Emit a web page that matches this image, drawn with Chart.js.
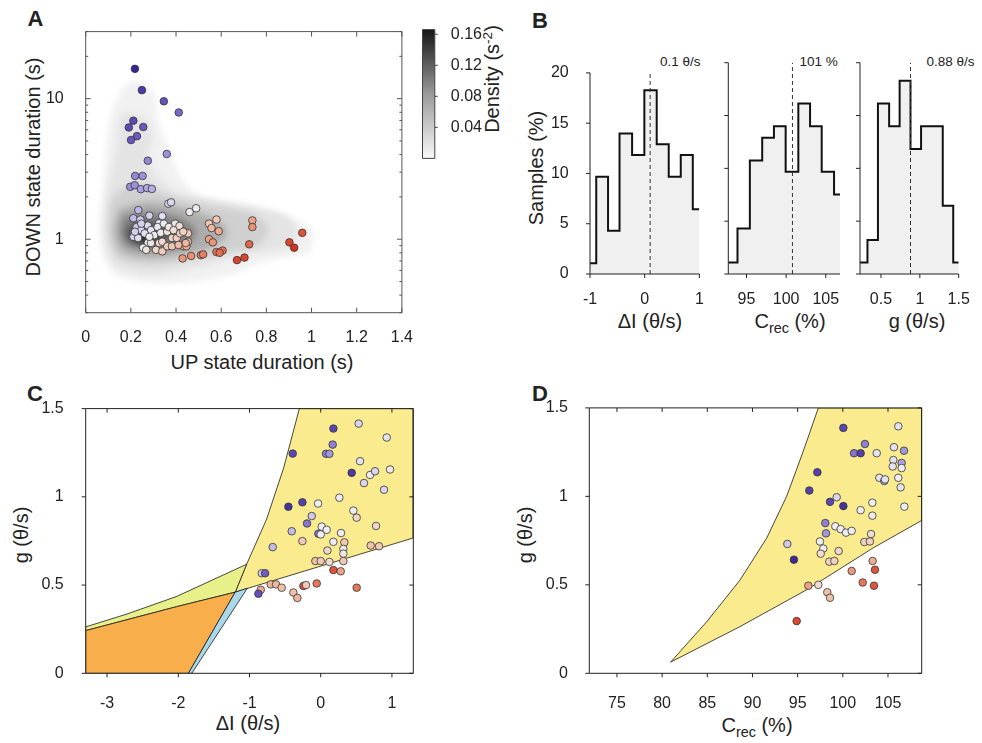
<!DOCTYPE html>
<html><head><meta charset="utf-8">
<script src="https://cdn.jsdelivr.net/npm/chart.js@4.4.1/dist/chart.umd.min.js"></script>
<style>
html,body{margin:0;padding:0;background:#fff}
body{position:relative;width:982px;height:743px;overflow:hidden;font-family:"Liberation Sans",Arial,Helvetica,sans-serif;color:#222}
canvas{position:absolute}
.t{position:absolute;white-space:nowrap;line-height:1;font-size:20px;transform:translate(-50%,-50%)}
.v{transform:translate(-50%,-50%) rotate(-90deg)}
.p{position:absolute;font-weight:bold;font-size:22px;line-height:1;transform:translate(-50%,-50%)}
.s{position:absolute;white-space:nowrap;line-height:1;font-size:13.5px;transform:translate(0,-50%)}
sub{font-size:0.72em;vertical-align:-0.35em;line-height:0}
sup{font-size:0.68em;vertical-align:0.55em;line-height:0}
</style></head><body>
<div class="p" style="left:35.5px;top:19px">A</div>
<div class="p" style="left:540px;top:21px">B</div>
<div class="p" style="left:35px;top:394px">C</div>
<div class="p" style="left:540px;top:394px">D</div>
<div class="t v" style="left:33px;top:167px">DOWN state duration (s)</div>
<div class="t" style="left:262px;top:362px">UP state duration (s)</div>
<div class="t v" style="left:492px;top:79px">Density (s<sup>-2</sup>)</div>
<div class="t v" style="left:536px;top:168px">Samples (%)</div>
<div class="t" style="left:650px;top:321px">ΔI (θ/s)</div>
<div class="t" style="left:790px;top:321px">C<sub>rec</sub> (%)</div>
<div class="t" style="left:917px;top:321px">g (θ/s)</div>
<div class="t v" style="left:21px;top:535px">g (θ/s)</div>
<div class="t" style="left:248px;top:723px">ΔI (θ/s)</div>
<div class="t v" style="left:525px;top:535px">g (θ/s)</div>
<div class="t" style="left:757px;top:725px">C<sub>rec</sub> (%)</div>
<div class="s" style="left:660px;top:62px">0.1 θ/s</div>
<div class="s" style="left:799.5px;top:62px">101 %</div>
<div class="s" style="left:926.5px;top:62px">0.88 θ/s</div>
<script>
// ---------------- DATA ----------------
// Panel A: UP / DOWN state durations (s)
const upDur = [0.218,0.249,0.346,0.412,0.211,0.191,0.255,0.227,0.201,0.359,0.275,0.219,0.252,0.197,0.217,0.244,0.272,0.293,0.366,0.378,0.46,0.489,
 0.233,0.211,0.242,0.282,0.339,0.396,0.415,0.453,0.325,0.225,0.246,0.275,0.289,0.318,0.211,0.232,0.218,0.304,0.332,0.361,0.382,0.403,0.432,0.446,
 0.275,0.289,0.325,0.339,0.254,0.268,0.311,0.339,0.361,0.382,0.411,0.246,0.261,0.282,0.346,0.368,0.389,0.418,0.432,0.453,
 0.546,0.579,0.557,0.589,0.546,0.563,0.579,0.606,0.593,0.429,0.467,0.51,0.52,0.443,0.738,0.738,0.724,0.703,0.67,0.959,0.902,0.923];
const downDur = [16.3,11.5,9.58,7.97,6.97,6.24,6.28,5.41,5.08,4.04,3.62,2.82,2.82,2.36,2.42,2.27,2.31,2.28,1.79,1.83,1.56,1.66,
 1.61,1.41,1.38,1.47,1.46,1.29,1.24,1.10,1.30,1.22,1.16,1.25,1.16,1.22,1.04,1.02,1.13,1.07,1.11,1.13,1.02,1.02,0.89,0.89,
 0.94,0.94,0.94,0.96,0.87,0.84,0.84,0.82,0.89,0.89,0.91,1.29,1.10,1.04,1.29,1.22,1.16,1.10,1.13,0.96,
 1.29,1.38,1.2,1.14,1.0,0.95,0.81,0.83,0.80,0.73,0.76,0.77,0.78,0.94,1.36,1.22,0.92,0.74,0.71,1.11,0.95,0.87];
const aXTicks = [0,0.2,0.4,0.6,0.8,1,1.2,1.4];
const aYTicks = [1,10];
const aYMinor = [0.3,0.4,0.5,0.6,0.7,0.8,0.9,2,3,4,5,6,7,8,9,20,30];
// density contours (UP s, DOWN s), outer to inner
const dens1 = [[0.211,13.6],[0.261,12.9],[0.304,10.7],[0.318,7.4],[0.346,5.4],[0.389,3.52],[0.446,2.43],[0.546,1.87],[0.717,1.59],[0.888,1.43],[0.973,1.29],[1.009,1.04],[0.988,0.80],[0.917,0.76],[0.774,0.68],[0.631,0.55],[0.417,0.49],[0.232,0.50],[0.118,0.58],[0.068,0.84],[0.061,1.36],[0.074,2.19],[0.09,4.35],[0.11,7.4],[0.154,11.3],[0.211,13.6]];
const dens2 = [[0.169,8.0],[0.267,7.2],[0.297,5.4],[0.275,3.9],[0.318,2.85],[0.382,2.25],[0.489,2.01],[0.703,1.77],[0.895,1.46],[0.938,1.1],[0.895,0.87],[0.703,0.78],[0.489,0.63],[0.275,0.56],[0.125,0.66],[0.083,1.1],[0.095,2.07],[0.137,4.6],[0.146,6.8],[0.169,8.0]];
const dens3 = [[0.125,2.07],[0.232,2.51],[0.361,2.07],[0.532,1.77],[0.746,1.51],[0.81,1.19],[0.767,0.91],[0.575,0.78],[0.318,0.66],[0.147,0.73],[0.104,1.02],[0.104,1.64],[0.125,2.07]];
const dens4 = [[0.147,1.64],[0.275,1.83],[0.446,1.64],[0.596,1.33],[0.626,1.07],[0.553,0.87],[0.318,0.74],[0.168,0.8],[0.125,1.1],[0.147,1.64]];
const dens5 = [[0.168,1.46],[0.275,1.56],[0.425,1.4],[0.489,1.14],[0.446,0.91],[0.297,0.83],[0.181,0.91],[0.155,1.14],[0.168,1.46]];
const dens6 = [[0.19,1.25],[0.275,1.33],[0.361,1.19],[0.37,1.02],[0.275,0.91],[0.198,0.97],[0.181,1.1],[0.19,1.25]];
const dens7 = [[0.232,1.14],[0.284,1.17],[0.309,1.05],[0.267,0.97],[0.224,1.0],[0.232,1.14]];
const cbRange = [0, 0.166];
const cbTicks = [0.04,0.08,0.12,0.16];

// Panel B: histograms (% of samples)
const b1Edges = [-1,-0.886,-0.67,-0.46,-0.23,-0.006,0.22,0.44,0.66,0.88,1.0];
const b1Pct = [1.08,9.68,4.30,13.98,11.83,18.28,12.90,9.68,11.83,6.45];
const b2Edges = [92.7,93.86,95.42,96.98,98.46,99.94,101.54,103.02,104.49,106.05,106.8];
const b2Pct = [1.08,4.30,10.75,12.90,13.98,9.68,16.13,13.98,9.68,7.53];
const b3Edges = [0.23,0.326,0.461,0.605,0.74,0.88,1.016,1.155,1.295,1.43,1.5];
const b3Pct = [1.08,3.23,16.13,13.98,18.28,11.83,13.98,13.98,6.45,1.08];
const bMedians = [0.1, 100.8, 0.88];
const bYTicks = [0,5,10,15,20];
const b1XTicks = [-1,0,1], b2XTicks = [95,100,105], b3XTicks = [0.5,1,1.5];

// Panel C: ΔI vs g, colour value (-1 purple .. 0 white .. 1 red)
const cDI = [0.533,0.178,0.927,-0.393,0.168,0.075,0.122,0.552,0.435,0.693,0.763,0.973,0.608,0.889,0.262,-0.454,-0.257,-0.037,-0.126,0.459,0.505,-0.192,0.014,0.084,-0.407,-0.033,0.0,0.285,0.777,-0.257,0.178,0.332,0.318,0.318,-0.674,0.094,0.702,0.819,-0.075,0.0,0.122,0.318,0.178,0.281,-0.828,-0.781,-0.702,-0.627,-0.548,-0.243,-0.206,-0.056,0.505,-0.842,-0.875,-0.384,-0.328];
const cG = [1.415,1.387,1.336,1.245,1.296,1.244,1.244,1.202,1.136,1.124,1.145,1.155,1.078,1.04,0.995,0.944,0.969,0.962,0.891,0.922,0.882,0.849,0.831,0.813,0.805,0.791,0.787,0.795,0.835,0.749,0.745,0.742,0.705,0.678,0.715,0.696,0.724,0.72,0.636,0.636,0.631,0.636,0.585,0.578,0.567,0.567,0.504,0.504,0.485,0.495,0.5,0.509,0.485,0.473,0.451,0.458,0.427];
const cTone = [-0.1,-0.75,-0.05,-0.75,-0.45,-0.45,-0.35,-0.05,-0.85,0,-0.1,0.05,-0.1,-0.1,0,-0.9,-0.8,0,-0.15,0,0.2,-0.5,0,0,-0.2,-0.5,0,0,0.2,0.3,0,0.3,0.05,0.05,-0.2,0.2,0.35,0.3,0.35,0.3,0.15,0.3,0.85,0.5,-0.15,-0.6,0.4,0.4,0.35,0.85,0.3,0.7,0.7,0.45,-0.7,0.35,0.4];
const cRegYellow = [[-1.2,0.46],[-1.04,0.618],[-0.76,0.873],[-0.52,1.164],[-0.30,1.5],[1.3,1.5],[1.3,0.767],[-1.2,0.46]];
const cRegGreen = [[-3.3,0.263],[-2.72,0.336],[-2.02,0.436],[-1.04,0.618],[-1.2,0.46],[-2.02,0.378],[-3.3,0.242],[-3.3,0.263]];
const cRegOrange = [[-3.3,0.242],[-2.02,0.378],[-1.2,0.46],[-1.858,0],[-3.3,0],[-3.3,0.242]];
const cRegBlue = [[-1.2,0.46],[-1.03,0.482],[-1.81,0],[-1.858,0],[-1.2,0.46]];
const cXTicks = [-3,-2,-1,0,1];
const gTicks = [0,0.5,1,1.5];

// Panel D: Crec vs g
const dCrec = [100.06,106.14,102.45,101.24,101.97,103.75,105.66,106.77,105.59,105.52,106.51,106.51,97.18,104.04,104.59,104.67,106.14,106.40,96.29,99.32,98.58,100.06,103.27,106.81,101.97,103.27,98.06,99.17,99.76,100.35,100.98,98.14,103.12,93.86,97.47,97.84,97.55,99.54,102.38,103.0,94.59,98.5,99.06,103.3,103.56,100.98,96.18,97.29,102.2,103.45,98.28,98.58,94.89];
const dG = [1.387,1.396,1.296,1.244,1.244,1.244,1.278,1.258,1.205,1.169,1.189,1.16,1.136,1.105,1.087,1.096,1.105,1.051,1.033,0.995,0.969,0.945,0.964,0.942,0.922,0.891,0.849,0.831,0.815,0.795,0.805,0.791,0.787,0.731,0.745,0.705,0.676,0.691,0.742,0.745,0.642,0.631,0.635,0.635,0.585,0.578,0.495,0.5,0.513,0.495,0.458,0.427,0.295];
const dTone = [-0.75,-0.05,-0.45,-0.5,-0.8,-0.05,-0.05,-0.35,-0.05,-0.05,-0.3,0,-0.8,-0.05,-0.3,-0.05,0,-0.05,-0.8,-0.1,-0.75,-0.9,0,0,0,0.05,-0.45,0,0,0,0,-0.35,0.15,-0.15,0,0,0.15,0.2,0.25,0.25,-0.95,0.25,0.25,0.45,0.85,0.55,0.5,0.15,0.7,0.85,0.35,0.35,0.9];
const dReg = [[80.94,0.063],[84.93,0.291],[88.62,0.527],[91.57,0.764],[93.78,1.0],[95.62,1.255],[97.29,1.5],[108.73,1.5],[108.73,0.864],[103.37,0.709],[96.0,0.472],[88.62,0.264],[80.94,0.063]];
const dXTicks = [75,80,85,90,95,100,105];

// ---------------- STYLE / HELPERS ----------------
Chart.defaults.font.family = '"Liberation Sans", Arial, sans-serif';
Chart.defaults.font.size = 16;
Chart.defaults.color = '#222';

const toneStops = [[-1,[55,35,150]],[-0.6,[112,92,196]],[-0.3,[172,163,226]],[0,[238,238,242]],[0.3,[240,202,182]],[0.6,[234,142,112]],[1,[214,50,28]]];
function toneColor(t){
  t = Math.max(-1, Math.min(1, t));
  for (let i=0;i<toneStops.length-1;i++){
    const [a,ca]=toneStops[i],[b,cb]=toneStops[i+1];
    if (t<=b){ const f=(t-a)/(b-a); const c=ca.map((v,k)=>Math.round(v+(cb[k]-v)*f)); return `rgb(${c[0]},${c[1]},${c[2]})`; }
  }
  return 'rgb(214,50,28)';
}
function ratioTone(u,d){ const r=Math.log10(d/u); return r>=0.55 ? -(r-0.55)/1.33 : (0.55-r)/0.57; }
const pts = (xs,ys)=>xs.map((v,i)=>({x:v,y:ys[i]}));
const poly = arr=>arr.map(p=>({x:p[0],y:p[1]}));
function hist(edges,pct){ const d=pct.map((p,i)=>({x:edges[i],y:p})); d.push({x:edges[edges.length-1],y:pct[pct.length-1]}); return d; }

function lin(min,max,ticks,pad,show=true){
  return {type:'linear',min,max,afterBuildTicks:s=>{s.ticks=ticks.map(v=>({value:v}));},
    grid:{display:false},border:{display:false},
    ticks:{display:show,autoSkip:false,maxRotation:0,padding:pad,callback:v=>String(v)}};
}
function frameP(o){
  return {id:'frame',afterDraw(chart){
    const {ctx,chartArea:a}=chart, xs=chart.scales.x, ys=chart.scales.y, sd=o.sides||{};
    ctx.save(); ctx.strokeStyle=o.color||'#222'; ctx.lineWidth=o.lw||1; ctx.beginPath();
    if(o.box) ctx.rect(a.left,a.top,a.right-a.left,a.bottom-a.top);
    if(o.axes){ctx.moveTo(a.left,a.top);ctx.lineTo(a.left,a.bottom);ctx.lineTo(a.right,a.bottom);}
    const seg=(x1,y1,x2,y2)=>{ctx.moveTo(x1,y1);ctx.lineTo(x2,y2);};
    const dx=(vals,len)=>vals.forEach(v=>{const p=xs.getPixelForValue(v);
      if(sd.b) seg(p,a.bottom,p,a.bottom+(sd.b==='in'?-len:len));
      if(sd.t) seg(p,a.top,p,a.top+(sd.t==='in'?len:-len));});
    const dy=(vals,len)=>vals.forEach(v=>{const p=ys.getPixelForValue(v);
      if(sd.l) seg(a.left,p,a.left+(sd.l==='in'?len:-len),p);
      if(sd.r) seg(a.right,p,a.right+(sd.r==='in'?-len:len),p);});
    dx(o.xt||[],o.len); dx(o.xm||[],o.mlen); dy(o.yt||[],o.len); dy(o.ym||[],o.mlen);
    ctx.stroke(); ctx.restore();
  }};
}
function make(cr, area, yRight, config){
  const cv=document.createElement('canvas');
  const W=cr.r-cr.l, H=cr.b-cr.t;
  cv.width=W; cv.height=H; cv.style.left=cr.l+'px'; cv.style.top=cr.t+'px';
  cv.style.width=W+'px'; cv.style.height=H+'px';
  document.body.appendChild(cv);
  const o=config.options;
  o.responsive=false; o.animation=false; o.devicePixelRatio=1; o.events=[];
  o.layout={autoPadding:false,padding:{top:area.t-cr.t,bottom:0,left:yRight?area.l-cr.l:0,right:yRight?0:cr.r-area.r}};
  const yw = yRight? cr.r-area.r : area.l-cr.l;
  o.scales.x.afterFit=s=>{s.height=cr.b-area.b;};
  o.scales.y.afterFit=s=>{s.width=yw;};
  o.plugins=Object.assign({legend:{display:false},tooltip:{enabled:false}},o.plugins||{});
  return new Chart(cv.getContext('2d'),config);
}
const ptStyle = {showLine:false,pointRadius:3.8,pointBorderWidth:0.8,pointBorderColor:'#333',order:0};

// ---------------- PANEL A ----------------
const contours=[dens1,dens2,dens3,dens4,dens5,dens6,dens7];
const grays=['#f1f1f1','#e4e4e4','#d0d0d0','#adadad','#828282','#525252','#222222'];
const blurP={id:'blur',
  beforeDatasetsDraw(ch){ch.ctx.filter='blur(3px)';},
  beforeDatasetDraw(ch,args){ if(args.index>=contours.length) ch.ctx.filter='none'; },
  afterDatasetsDraw(ch){ch.ctx.filter='none';}};
make({l:40,t:8,r:420,b:345},{l:85.7,t:22.7,r:413.3,b:312.7},false,{
  type:'line',
  data:{datasets:[
    ...contours.map((c,i)=>({data:poly(c),fill:'shape',backgroundColor:grays[i],borderWidth:0,borderColor:'transparent',pointRadius:0,tension:0.3,order:20-i})),
    Object.assign({data:pts(upDur,downDur),pointBackgroundColor:upDur.map((u,i)=>toneColor(ratioTone(u,downDur[i])))},ptStyle)
  ]},
  options:{scales:{
    x:lin(0,1.4,aXTicks,7),
    y:{type:'logarithmic',min:0.3,max:30,afterBuildTicks:s=>{s.ticks=aYTicks.map(v=>({value:v}));},
       grid:{display:false},border:{display:false},ticks:{autoSkip:false,padding:14,callback:v=>String(v)}}
  }},
  plugins:[blurP,frameP({box:true,color:'#555',sides:{b:'in',t:'in',l:'in',r:'in'},xt:aXTicks,yt:aYTicks,ym:aYMinor,len:5,mlen:2.5})]
});
// colour bar
make({l:416,t:12,r:482,b:176},{l:422.5,t:22.3,r:434.8,b:166.7},true,{
  type:'bar',
  data:{labels:[''],datasets:[{data:[cbRange],barPercentage:1,categoryPercentage:1,borderWidth:0,
    backgroundColor:c=>{const a=c.chart.chartArea; if(!a) return '#888';
      const g=c.chart.ctx.createLinearGradient(0,a.bottom,0,a.top); g.addColorStop(0,'#f8f8f8'); g.addColorStop(0.5,'#9a9a9a'); g.addColorStop(1,'#161616'); return g;}}]},
  options:{scales:{
    x:{type:'category',grid:{display:false},border:{display:false},ticks:{display:false}},
    y:Object.assign(lin(cbRange[0],cbRange[1],cbTicks,8),{position:'right'})
  }},
  plugins:[frameP({box:true,color:'#444',sides:{r:'out'},yt:cbTicks,len:3})]
});

// ---------------- PANEL B ----------------
function histChart(cr,area,edges,pct,xr,xt,med,showY){
  return make(cr,area,false,{
    type:'line',
    data:{datasets:[
      {data:[{x:med,y:0},{x:med,y:20}],borderDash:[4,3],borderWidth:1,borderColor:'#333',pointRadius:0,fill:false,order:0},
      {data:hist(edges,pct),stepped:'before',fill:'origin',backgroundColor:'#f0f0f0',borderColor:'#111',borderWidth:2,pointRadius:0,order:1}
    ]},
    options:{scales:{x:lin(xr[0],xr[1],xt,8.2),y:lin(0,20,bYTicks,13.3,showY)}},
    plugins:[frameP({axes:true,color:'#222',sides:{b:'out',l:'out'},xt:xt,yt:bYTicks,len:4})]
  });
}
histChart({l:545,t:50,r:712,b:305},{l:590,t:62.7,r:707,b:274},b1Edges,b1Pct,[-1,1],b1XTicks,bMedians[0],true);
histChart({l:715,t:50,r:850,b:305},{l:728.3,t:62.7,r:840,b:274},b2Edges,b2Pct,[92.7,106.8],b2XTicks,bMedians[1],false);
histChart({l:852,t:50,r:978,b:305},{l:860,t:62.7,r:969.3,b:274},b3Edges,b3Pct,[0.23,1.5],b3XTicks,bMedians[2],false);

// ---------------- PANEL C ----------------
const regStyle=(c)=>({fill:'shape',backgroundColor:c,borderColor:'#1a1a1a',borderWidth:0.8,pointRadius:0,tension:0});
make({l:40,t:385,r:420,b:712},{l:85.7,t:398.3,r:413.3,b:673.3},false,{
  type:'line',
  data:{datasets:[
    Object.assign({data:poly(cRegYellow),order:9},regStyle('#faec8e')),
    Object.assign({data:poly(cRegGreen),order:8},regStyle('#e8f08a')),
    Object.assign({data:poly(cRegOrange),order:7},regStyle('#f7ae4b')),
    Object.assign({data:poly(cRegBlue),order:6},regStyle('#a8d8ea')),
    Object.assign({data:pts(cDI,cG),pointBackgroundColor:cTone.map(toneColor)},ptStyle)
  ]},
  options:{scales:{x:lin(-3.3,1.3,cXTicks,12.3),y:lin(0,1.5,gTicks,14)}},
  plugins:[frameP({box:true,color:'#222',sides:{b:'out',l:'out',t:'in',r:'in'},xt:cXTicks,yt:gTicks,len:4})]
});

// ---------------- PANEL D ----------------
make({l:540,t:385,r:930,b:712},{l:589.3,t:398.3,r:921.7,b:673.3},false,{
  type:'line',
  data:{datasets:[
    Object.assign({data:poly(dReg),order:9},regStyle('#faec8e')),
    Object.assign({data:pts(dCrec,dG),pointBackgroundColor:dTone.map(toneColor)},ptStyle)
  ]},
  options:{scales:{x:lin(71.94,108.73,dXTicks,12.3),y:lin(0,1.5,gTicks,13.3)}},
  plugins:[frameP({box:true,color:'#222',sides:{b:'out',l:'out',t:'in',r:'in'},xt:dXTicks,yt:gTicks,len:4})]
});
</script>
</body></html>
